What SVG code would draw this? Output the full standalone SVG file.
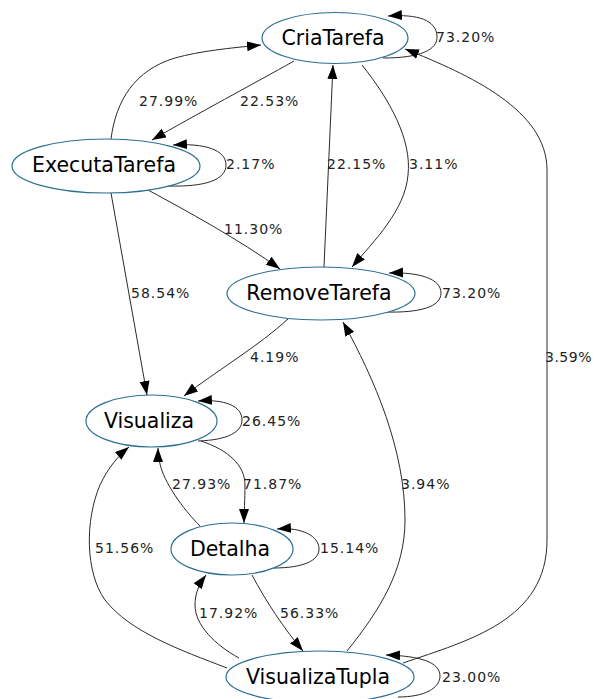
<svg xmlns="http://www.w3.org/2000/svg" width="594" height="699" viewBox="0 0 594 699">
  <style>
    .node ellipse { fill: #ffffff; stroke: #2b6f94; stroke-width: 1.2; }
    .node text { font-family: "DejaVu Sans", "Liberation Sans", sans-serif; font-size: 20.5px; fill: #000; text-anchor: middle; }
    .edge path { fill: none; stroke: #2a2a2a; stroke-width: 1; marker-end: url(#arrow); }
    .lbl { font-family: "DejaVu Sans", "Liberation Sans", sans-serif; font-size: 14px; letter-spacing: 1px; fill: #222; }
  </style>
  <defs>
    <marker id="arrow" markerUnits="userSpaceOnUse" markerWidth="15" markerHeight="11" refX="14" refY="5" orient="auto">
      <path d="M0,0 L14,5 L0,10 z" fill="#000"/>
    </marker>
  </defs>
  <rect width="594" height="699" fill="#ffffff"/>

  <g id="edges" class="edge">
    <!-- CriaTarefa self loop -->
    <path d="M383,58 C420,58 438,50 437,36 C436,20 418,14 388,16"/>
    <!-- CriaTarefa -> ExecutaTarefa -->
    <path d="M294,61 C255,83 195,115 152,140"/>
    <!-- ExecutaTarefa -> CriaTarefa -->
    <path d="M111,139 C116,100 135,70 175,58 C200,51 230,48 261,45"/>
    <!-- ExecutaTarefa self loop -->
    <path d="M168,186 C205,187 226,180 226,165 C226,150 205,143 173,145"/>
    <!-- RemoveTarefa -> CriaTarefa -->
    <path d="M324,267 L333,65"/>
    <!-- CriaTarefa -> RemoveTarefa -->
    <path d="M362,65 C390,100 412,140 408,175 C405,210 375,240 352,267"/>
    <!-- ExecutaTarefa -> RemoveTarefa -->
    <path d="M148,190 C185,210 240,240 280,269"/>
    <!-- ExecutaTarefa -> Visualiza -->
    <path d="M111,193 L147,395"/>
    <!-- RemoveTarefa self loop -->
    <path d="M384,312 C420,313 441,307 441,293 C441,279 420,272 389,273"/>
    <!-- RemoveTarefa -> Visualiza -->
    <path d="M288,319 C260,345 215,372 184,396"/>
    <!-- Visualiza self loop -->
    <path d="M198,441 C228,440 242,432 242,420 C242,406 225,399 198,401"/>
    <!-- Visualiza -> Detalha -->
    <path d="M201,441 C228,450 245,465 245,485 C245,500 244,512 244,523"/>
    <!-- Detalha -> Visualiza -->
    <path d="M200,526 C182,508 164,482 160,464 C159,458 158,453 158,448"/>
    <!-- VisualizaTupla -> Visualiza -->
    <path d="M227,668 C180,650 130,632 105,600 C85,572 85,520 100,485 C108,468 118,456 129,447"/>
    <!-- Detalha self loop -->
    <path d="M273,568 C305,568 319,560 319,549 C319,536 302,527 277,529"/>
    <!-- VisualizaTupla -> Detalha -->
    <path d="M239,658 C215,645 195,625 195,605 C195,592 200,583 206,575"/>
    <!-- Detalha -> VisualizaTupla -->
    <path d="M252,575 C265,600 285,630 303,651"/>
    <!-- VisualizaTupla -> RemoveTarefa -->
    <path d="M347,651 C380,610 405,570 405,520 C405,450 375,380 343,322"/>
    <!-- VisualizaTupla -> CriaTarefa -->
    <path d="M403,663 C470,640 547,620 547,540 L547,170 C547,110 470,75 405,49"/>
    <!-- VisualizaTupla self loop -->
    <path d="M398,697 C425,697 440,688 440,676 C440,662 420,656 386,655"/>
  </g>

  <g id="edge-labels">
    <text class="lbl" x="436" y="42">73.20%</text>
    <text class="lbl" x="240" y="106">22.53%</text>
    <text class="lbl" x="139" y="106">27.99%</text>
    <text class="lbl" x="226" y="169">2.17%</text>
    <text class="lbl" x="327" y="169">22.15%</text>
    <text class="lbl" x="409" y="169">3.11%</text>
    <text class="lbl" x="224" y="234">11.30%</text>
    <text class="lbl" x="131" y="298">58.54%</text>
    <text class="lbl" x="442" y="298">73.20%</text>
    <text class="lbl" x="250" y="362">4.19%</text>
    <text class="lbl" x="545" y="362" style="letter-spacing:0.5px">3.59%</text>
    <text class="lbl" x="242" y="426">26.45%</text>
    <text class="lbl" x="172" y="489">27.93%</text>
    <text class="lbl" x="243" y="489">71.87%</text>
    <text class="lbl" x="401" y="489">3.94%</text>
    <text class="lbl" x="95" y="553">51.56%</text>
    <text class="lbl" x="320" y="553">15.14%</text>
    <text class="lbl" x="199" y="618">17.92%</text>
    <text class="lbl" x="280" y="618">56.33%</text>
    <text class="lbl" x="442" y="682">23.00%</text>
  </g>

  <g id="CriaTarefa" class="node">
    <ellipse cx="335" cy="38" rx="73" ry="25.5"/>
    <text x="333" y="45">CriaTarefa</text>
  </g>
  <g id="ExecutaTarefa" class="node">
    <ellipse cx="106" cy="166" rx="94" ry="27"/>
    <text x="104" y="172">ExecutaTarefa</text>
  </g>
  <g id="RemoveTarefa" class="node">
    <ellipse cx="321" cy="293.5" rx="94" ry="26.5"/>
    <text x="319" y="300">RemoveTarefa</text>
  </g>
  <g id="Visualiza" class="node">
    <ellipse cx="151.5" cy="421" rx="65.5" ry="26"/>
    <text x="149" y="428">Visualiza</text>
  </g>
  <g id="Detalha" class="node">
    <ellipse cx="232" cy="549" rx="61" ry="26"/>
    <text x="230" y="556">Detalha</text>
  </g>
  <g id="VisualizaTupla" class="node">
    <ellipse cx="320" cy="677" rx="94" ry="26"/>
    <text x="318" y="684">VisualizaTupla</text>
  </g>
</svg>
